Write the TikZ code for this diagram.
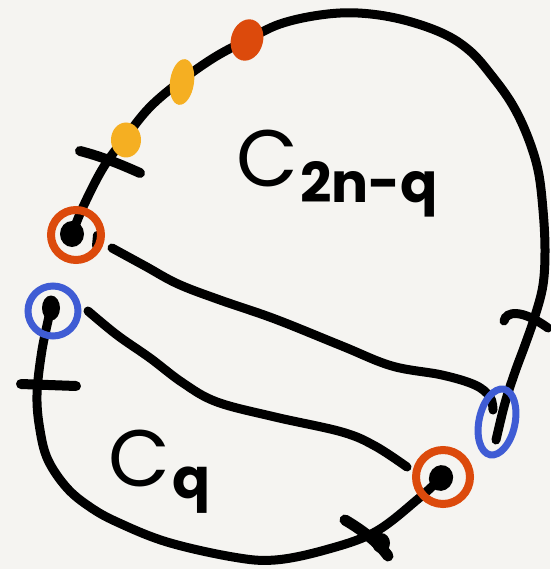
\documentclass[tikz,border=0pt]{standalone}
\usepackage{fontspec}
\setmainfont{Poppins}
\usetikzlibrary{shapes.geometric}
\definecolor{bg}{HTML}{F5F4F1}
\definecolor{ringred}{HTML}{DC4A0C}
\definecolor{ringblue}{HTML}{3F5CD4}
\definecolor{dotyellow}{HTML}{F5AF22}
\begin{document}
\begin{tikzpicture}[x=1pt,y=-1pt,
  stroke/.style={line width=9pt, line cap=round, line join=round},
  tickmark/.style={line width=10pt, line cap=round},
  redring/.style={circle, draw=ringred, line width=8pt, inner sep=0pt},
  bluering/.style={circle, draw=ringblue, line width=7pt, inner sep=0pt},
  blob/.style={ellipse, fill=black, inner sep=0pt},
  cblob/.style={ellipse, inner sep=0pt},
  lbl/.style={inner sep=0pt, anchor=base west}]
\fill[bg] (0,0) rectangle (550,569);
\useasboundingbox (0,0) rectangle (550,569);

% key points
\coordinate (R1) at (76,235);
\coordinate (B1) at (53,311);
\coordinate (B2) at (497,422);
\coordinate (R2) at (443,477);

% black dots
\node[blob, minimum width=24pt, minimum height=26pt] (R1dot) at (72,234) {};
\node[blob, minimum width=18pt, minimum height=25pt] (B1dot) at (51,308) {};
\node[blob, minimum width=24pt, minimum height=26pt, rotate=-20] (R2dot) at (441,478) {};

% main loop, upper part: from red ring to blue ellipse
\draw[stroke] plot[smooth, tension=0.6] coordinates {(R1dot.center) (83,207) (103,168) (125,138) (150,107)
  (182,80) (215,57) (247,40) (280,24) (320,15) (358,13) (400,19) (442,33) (470,51) (492,76)
  (512,104) (527,135) (538,170) (543,210) (545,250) (543,285) (535,316) (525,345) (515,372)
  (505,403) (496,440)};
% main loop, lower part: from blue ring to red ring
\draw[stroke] plot[smooth, tension=0.6] coordinates {(B1dot.center) (42,350) (37,395) (40,430) (48,460)
  (67,488) (90,507) (117,522) (167,542) (233,557) (275,560) (325,550) (375,532) (418,499)
  (R2dot.center)};

% chords
\coordinate (C1s) at (112,248);
\coordinate (C1e) at (493,410);
\coordinate (C2s) at (88,311);
\coordinate (C2e) at (407,467);
\draw[stroke] plot[smooth, tension=0.6] coordinates {(C1s) (145,266) (178,284) (220,300) (275,319)
  (342,346) (392,366) (442,375) (475,385) (490,397) (C1e)};
\draw[stroke] plot[smooth, tension=0.6] coordinates {(C2s) (117,335) (150,358) (183,383) (217,402)
  (275,417) (342,432) (375,446) (C2e)};

% little mark inside the upper red ring
\draw[line width=8pt, line cap=round] (97,235) -- (96,246);

% rings
\node[redring, minimum size=50pt] (R1ring) at (R1) {};
\node[redring, minimum size=54pt] (R2ring) at (R2) {};
\node[bluering, minimum size=50pt] (B1ring) at (B1) {};
\node[ellipse, draw=ringblue, line width=7pt, inner sep=0pt,
  minimum width=36pt, minimum height=67pt, rotate=-12] (B2ring) at (B2) {};

% coloured dots on the upper arc
\node[cblob, fill=ringred, minimum width=32pt, minimum height=42pt, rotate=-15] (Rdot) at (247,40) {};
\node[cblob, fill=dotyellow, minimum width=24pt, minimum height=46pt, rotate=-8] (Y1) at (182,82) {};
\node[cblob, fill=dotyellow, minimum width=30pt, minimum height=35pt] (Y2) at (126,140) {};

% tick marks
\draw[tickmark] (80,151) .. controls (100,156) and (120,164) .. (140,173);
\draw[tickmark] (21,384) -- (76,386);
\draw[line width=9pt, line cap=round] (504,321) .. controls (506,311) and (522,309) .. (548,328);
\draw[line width=11pt, line cap=round] (345,520) .. controls (362,530) and (378,542) .. (388,556);
\node[blob, minimum width=18pt, minimum height=20pt] (Tb) at (381,543) {};

% labels
\node[lbl, font=\fontsize{80}{80}\selectfont\mdseries] (Cbig) at (236,186) {C};
\node[lbl, font=\fontsize{55}{55}\selectfont\bfseries] (Csub) at (300,202) {2n-q};
\node[lbl, font=\fontsize{80}{80}\selectfont] (Cq) at (108,486) {C};
\node[lbl, font=\fontsize{56}{56}\selectfont\bfseries] (Cqs) at (172,498) {q};
\end{tikzpicture}
\end{document}
